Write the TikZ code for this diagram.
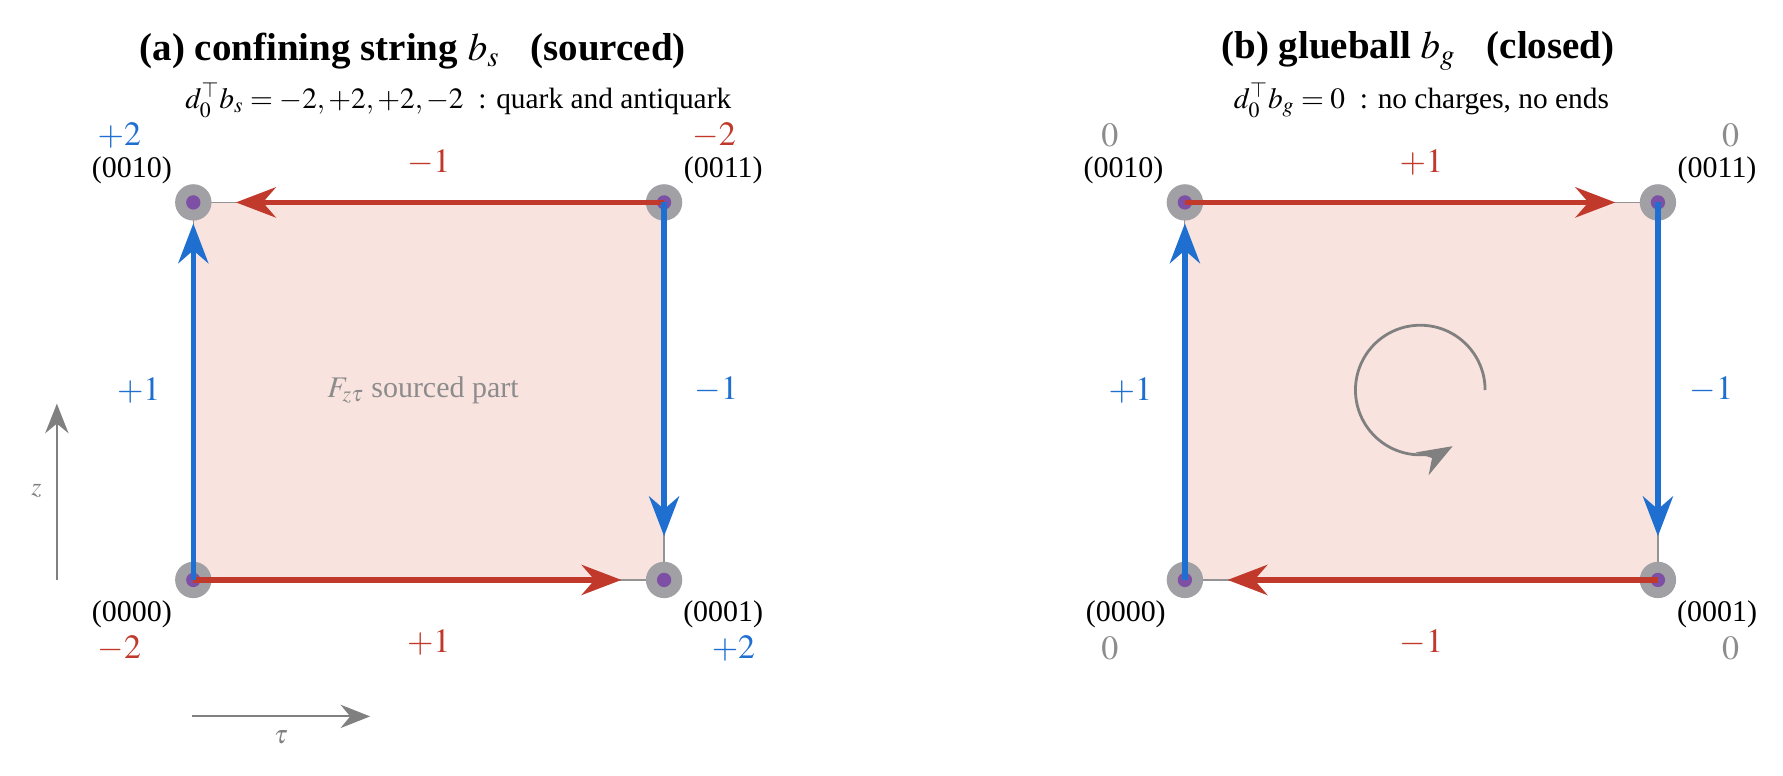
\documentclass[tikz,border=0pt]{standalone}
\usepackage{mathptmx}
\usepackage{fontspec}
\setmainfont{Liberation Serif}
\usetikzlibrary{arrows.meta, positioning, backgrounds}

\definecolor{edgered}{HTML}{C0392B}
\definecolor{edgeblue}{HTML}{1F6FD1}
\definecolor{sheetpink}{HTML}{F9E3DF}
\definecolor{vtxgray}{HTML}{A0A0A5}
\definecolor{vtxpurple}{HTML}{7D50A5}
\definecolor{axisgray}{HTML}{808080}
\definecolor{softgray}{HTML}{8C8C8C}

\begin{document}
\begin{tikzpicture}[
    font=\fontsize{15}{18}\selectfont,
    vtx/.style   ={circle, fill=vtxgray, minimum size=0.64cm, inner sep=0pt,
                   path picture={\fill[vtxpurple]
                     (path picture bounding box.center) circle (0.126);}},
    redarr/.style ={-{Stealth[length=7mm, width=5.3mm]}, line width=2.8pt, edgered},
    bluearr/.style={-{Stealth[length=7mm, width=5.3mm]}, line width=2.8pt, edgeblue},
    lattice/.style={draw=axisgray!85, line width=0.6pt},
    sheet/.style  ={fill=sheetpink},
    coord/.style  ={inner sep=1pt},
    chg/.style    ={inner sep=1pt, font=\fontsize{17}{20}\selectfont},
    ttl/.style    ={font=\fontsize{19.5}{22}\selectfont\bfseries},
    subttl/.style ={font=\fontsize{14.7}{18}\selectfont},
    axis/.style   ={-{Stealth[length=5.2mm, width=4.1mm]}, line width=1pt, axisgray},
    turn/.style   ={-{Stealth[length=6.2mm, width=4.6mm]}, line width=1.4pt, axisgray}
  ]
  \useasboundingbox (0,0) rectangle (31.36,13.64);

  % ---- (a) confining string -------------------------------------------
  \node[ttl]    (ta) at (7.26,12.74) {(a) confining string $b_s$\hspace{0.8em}(sourced)};
  \node[subttl] (sa) at (8.06,11.88) {$d_0^{\top} b_s = -2, +2, +2, -2$\ \ : quark and antiquark};

  \node[vtx] (a10) at (3.40,10.08) {};
  \node[vtx] (a11) at (11.68,10.08) {};
  \node[vtx] (a00) at (3.40, 3.44) {};
  \node[vtx] (a01) at (11.68, 3.44) {};
  \begin{pgfonlayer}{background}
    \fill[sheet] (a00.center) rectangle (a11.center);
    \draw[lattice] (a00.center) rectangle (a11.center);
  \end{pgfonlayer}

  \node[coord] (la10) at (2.32,10.64) {(0010)};
  \node[coord] (la11) at (12.72,10.64) {(0011)};
  \node[coord] (la00) at (2.32, 2.84) {(0000)};
  \node[coord] (la01) at (12.72, 2.84) {(0001)};
  \node[chg, text=edgeblue] (qa10) at (2.10,11.26) {$+2$};
  \node[chg, text=edgered]  (qa11) at (12.56,11.26) {$-2$};
  \node[chg, text=edgered]  (qa00) at (2.10, 2.24) {$-2$};
  \node[chg, text=edgeblue] (qa01) at (12.90, 2.24) {$+2$};

  \draw[redarr, shorten >=0.75cm]  (a11.center) -- (a10.center);
  \draw[redarr, shorten >=0.75cm]  (a00.center) -- (a01.center);
  \draw[bluearr, shorten >=0.37cm] (a00.center) -- (a10.center);
  \draw[bluearr, shorten >=0.77cm] (a11.center) -- (a01.center);

  \node[chg, text=edgered]  (ea-t) at (7.54,10.78) {$-1$};
  \node[chg, text=edgered]  (ea-b) at (7.54, 2.34) {$+1$};
  \node[chg, text=edgeblue] (ea-l) at (2.44, 6.78) {$+1$};
  \node[chg, text=edgeblue] (ea-r) at (12.60, 6.78) {$-1$};
  \node[text=softgray] (fa) at (7.44,6.78) {$F_{z\tau}$ sourced part};

  % ---- axes -----------------------------------------------------------
  \coordinate (zlo) at (1.00,3.44);
  \coordinate (zhi) at (1.00,6.54);
  \coordinate (tlo) at (3.38,1.04);
  \coordinate (thi) at (6.51,1.04);
  \draw[axis] (zlo) -- (zhi);
  \draw[axis] (tlo) -- (thi);
  \node[text=axisgray, font=\fontsize{13}{15}\selectfont] (zl) at (0.64,5.00) {$z$};
  \node[text=axisgray, font=\fontsize{13}{15}\selectfont] (tl) at (4.94,0.68) {$\tau$};

  % ---- (b) glueball ---------------------------------------------------
  \node[ttl]    (tb) at (24.94,12.74) {(b) glueball $b_g$\hspace{0.8em}(closed)};
  \node[subttl] (sb) at (25.00,11.88) {$d_0^{\top} b_g = 0$\ \ : no charges, no ends};

  \node[vtx] (b10) at (20.84,10.08) {};
  \node[vtx] (b11) at (29.16,10.08) {};
  \node[vtx] (b00) at (20.84, 3.44) {};
  \node[vtx] (b01) at (29.16, 3.44) {};
  \begin{pgfonlayer}{background}
    \fill[sheet] (b00.center) rectangle (b11.center);
    \draw[lattice] (b00.center) rectangle (b11.center);
  \end{pgfonlayer}

  \node[coord] (lb10) at (19.76,10.64) {(0010)};
  \node[coord] (lb11) at (30.20,10.64) {(0011)};
  \node[coord] (lb00) at (19.80, 2.84) {(0000)};
  \node[coord] (lb01) at (30.20, 2.84) {(0001)};
  \node[chg, text=softgray] (qb10) at (19.52,11.26) {$0$};
  \node[chg, text=softgray] (qb11) at (30.44,11.26) {$0$};
  \node[chg, text=softgray] (qb00) at (19.52, 2.24) {$0$};
  \node[chg, text=softgray] (qb01) at (30.44, 2.24) {$0$};

  \draw[redarr, shorten >=0.75cm]  (b10.center) -- (b11.center);
  \draw[redarr, shorten >=0.75cm]  (b01.center) -- (b00.center);
  \draw[bluearr, shorten >=0.37cm] (b00.center) -- (b10.center);
  \draw[bluearr, shorten >=0.77cm] (b11.center) -- (b01.center);

  \node[chg, text=edgered]  (eb-t) at (25.00,10.78) {$+1$};
  \node[chg, text=edgered]  (eb-b) at (25.00, 2.34) {$-1$};
  \node[chg, text=edgeblue] (eb-l) at (19.88, 6.78) {$+1$};
  \node[chg, text=edgeblue] (eb-r) at (30.10, 6.78) {$-1$};

  % circulation
  \coordinate (rot) at (24.98,6.78);
  \draw[turn] ([shift={(0:1.14)}]rot) arc[start angle=0, end angle=300, radius=1.14];

\end{tikzpicture}
\end{document}
